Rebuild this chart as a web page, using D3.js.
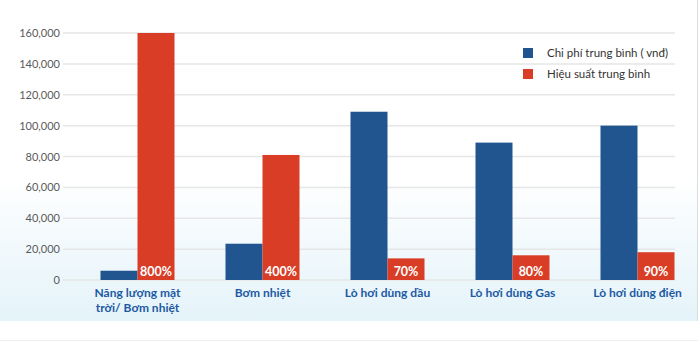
<!DOCTYPE html>
<html><head><meta charset="utf-8">
<script src="https://cdn.jsdelivr.net/npm/d3@7"></script>
<style>
html,body{margin:0;padding:0;background:#fff;}
svg{display:block;font-family:"Century Gothic","Lato","DejaVu Sans",sans-serif;}
</style></head>
<body>
<svg id="chart" width="698" height="342"></svg>
<script>
const categories = [["Năng lượng mặt","trời/ Bơm nhiệt"],["Bơm nhiệt"],["Lò hơi dùng dầu"],["Lò hơi dùng Gas"],["Lò hơi dùng điện"]];
const costValues = [6000, 23500, 109000, 89000, 100000];
const efficiencyValues = [160000, 81000, 14000, 16000, 18000];
const efficiencyLabels = ["800%", "400%", "70%", "80%", "90%"];
const seriesNames = ["Chi phí trung bình ( vnđ)", "Hiệu suất trung bình"];
const yTicks = [0, 20000, 40000, 60000, 80000, 100000, 120000, 140000, 160000];

const colors = ["#21558f", "#d93d26"];
const svg = d3.select("#chart");

const defs = svg.append("defs");
const grad = defs.append("linearGradient").attr("id","bg").attr("x1",0).attr("y1",0).attr("x2",0).attr("y2",1);
grad.append("stop").attr("offset","0%").attr("stop-color","#ffffff");
grad.append("stop").attr("offset","55%").attr("stop-color","#ffffff");
grad.append("stop").attr("offset","100%").attr("stop-color","#e4f3f9");
svg.append("rect").attr("x",0).attr("y",0).attr("width",697).attr("height",321).attr("fill","url(#bg)");
svg.append("line").attr("x1",697.5).attr("x2",697.5).attr("y1",0).attr("y2",321).attr("stroke","#d8dde0");
svg.append("line").attr("x1",0).attr("x2",698).attr("y1",340.5).attr("y2",340.5).attr("stroke","#eeeeee");

const x0 = d3.scaleBand().domain(d3.range(categories.length)).range([75, 700]).paddingInner(0.408).paddingOuter(0.204);
const x1 = d3.scaleBand().domain([0,1]).range([0, x0.bandwidth()]);
const y = d3.scaleLinear().domain([0, 160000]).range([280, 33]);

// grid
const yAxis = d3.axisLeft(y).tickValues(yTicks).tickSize(0).tickPadding(0).tickFormat(d3.format(","));
const ax = svg.append("g").attr("transform","translate(60,0)").call(yAxis);
ax.select(".domain").remove();
ax.selectAll("text").attr("font-size",11).attr("fill","#5a5a5a").attr("font-family","'Century Gothic','Lato','DejaVu Sans',sans-serif");
svg.append("g").selectAll("line").data(yTicks).join("line")
  .attr("x1",63).attr("x2",675).attr("y1",d=>y(d)).attr("y2",d=>y(d))
  .attr("stroke","#e6e6e6").attr("stroke-width",1.5);

const groups = svg.append("g").selectAll("g").data(categories).join("g")
  .attr("transform",(d,i)=>`translate(${x0(i)},0)`);
groups.append("rect").attr("x",x1(0)).attr("width",x1.bandwidth())
  .attr("y",(d,i)=>y(costValues[i])).attr("height",(d,i)=>y(0)-y(costValues[i])).attr("fill",colors[0]);
groups.append("rect").attr("x",x1(1)).attr("width",x1.bandwidth())
  .attr("y",(d,i)=>y(efficiencyValues[i])).attr("height",(d,i)=>y(0)-y(efficiencyValues[i])).attr("fill",colors[1]);
groups.append("text").attr("x",x1(1)+x1.bandwidth()/2).attr("y",y(0)-4)
  .attr("text-anchor","middle").attr("fill","#fff").attr("font-weight","bold").attr("font-size",12.5)
  .text((d,i)=>efficiencyLabels[i]);

// category labels
const lab = groups.append("text").attr("x",x0.bandwidth()/2).attr("y",297)
  .attr("text-anchor","middle").attr("fill","#1d5aa3").attr("font-weight","bold").attr("font-size",12);
lab.selectAll("tspan").data(d=>d).join("tspan").attr("x",x0.bandwidth()/2).attr("dy",(d,i)=>i===0?0:15).text(d=>d);

// legend
const leg = svg.append("g").selectAll("g").data(seriesNames).join("g")
  .attr("transform",(d,i)=>`translate(523,${48+i*21})`);
leg.append("rect").attr("width",10).attr("height",10).attr("fill",(d,i)=>colors[i]);
leg.append("text").attr("x",24).attr("y",9).attr("font-size",11.5).attr("fill","#333").text(d=>d);
</script>
</body></html>
